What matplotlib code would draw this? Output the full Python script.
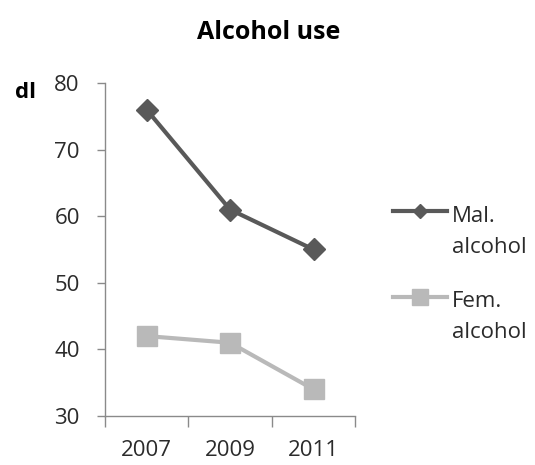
import matplotlib
matplotlib.use("Agg")
import matplotlib.pyplot as plt
from matplotlib.lines import Line2D

plt.rcParams['font.family'] = ['Open Sans', 'DejaVu Sans']

years = ["2007", "2009", "2011"]
male_alcohol = [76, 61, 55]
female_alcohol = [42, 41, 34]
series_labels = ["Mal.\nalcohol", "Fem.\nalcohol"]
y_ticks = [30, 40, 50, 60, 70, 80]

text_color = "#2b2b2b"
axis_color = "#8a8a8a"
male_color = "#595959"
female_color = "#B9B9B9"

fig = plt.figure(figsize=(5.35, 4.65), dpi=100)
ax = fig.add_axes([0.196, 0.1054, 0.468, 0.7161])

x = [0.5, 1.5, 2.5]
ax.plot(x, male_alcohol, color=male_color, lw=3, marker="D", ms=11.5,
        solid_joinstyle="round")
ax.plot(x, female_alcohol, color=female_color, lw=3, marker="s", ms=14,
        solid_joinstyle="round")

ax.set_xlim(0, 3)
ax.set_ylim(30, 80)
ax.set_yticks(y_ticks)
ax.set_xticks([0, 1, 2, 3])
ax.set_xticklabels([])
ax.set_xticks(x, minor=True)
ax.set_xticklabels(years, minor=True)
ax.tick_params(axis="x", which="minor", length=0, pad=17, labelsize=16,
               labelcolor=text_color)
ax.tick_params(axis="x", which="major", length=8, color=axis_color, width=1)
ax.tick_params(axis="y", length=6, color=axis_color, width=1, labelsize=16,
               labelcolor=text_color, pad=12)

for s in ["top", "right"]:
    ax.spines[s].set_visible(False)
for s in ["left", "bottom"]:
    ax.spines[s].set_color(axis_color)
    ax.spines[s].set_linewidth(1)

fig.text(0.502, 0.916, "Alcohol use", ha="center", va="baseline",
         fontsize=18, fontweight="bold", color="black")
fig.text(0.028, 0.789, "dl", ha="left", va="baseline",
         fontsize=16, fontweight="bold", color="black")

# Legend: handle aligned with the first line of each two-line label
legend_entries = [
    (series_labels[0], male_color, "D", 7, 0.5462, 0.5226),
    (series_labels[1], female_color, "s", 11, 0.3613, 0.3398),
]
line_step = 0.0665
for label, color, marker, msize, y_handle, y_text in legend_entries:
    fig.add_artist(Line2D([0.7346, 0.8355], [y_handle, y_handle],
                          transform=fig.transFigure, color=color, lw=3))
    fig.add_artist(Line2D([0.785], [y_handle], transform=fig.transFigure,
                          color=color, marker=marker, ms=msize, lw=0))
    for k, part in enumerate(label.split("\n")):
        fig.text(0.845, y_text - k * line_step, part, ha="left",
                 va="baseline", fontsize=16, color=text_color)

fig.savefig("out.png", dpi=100)
